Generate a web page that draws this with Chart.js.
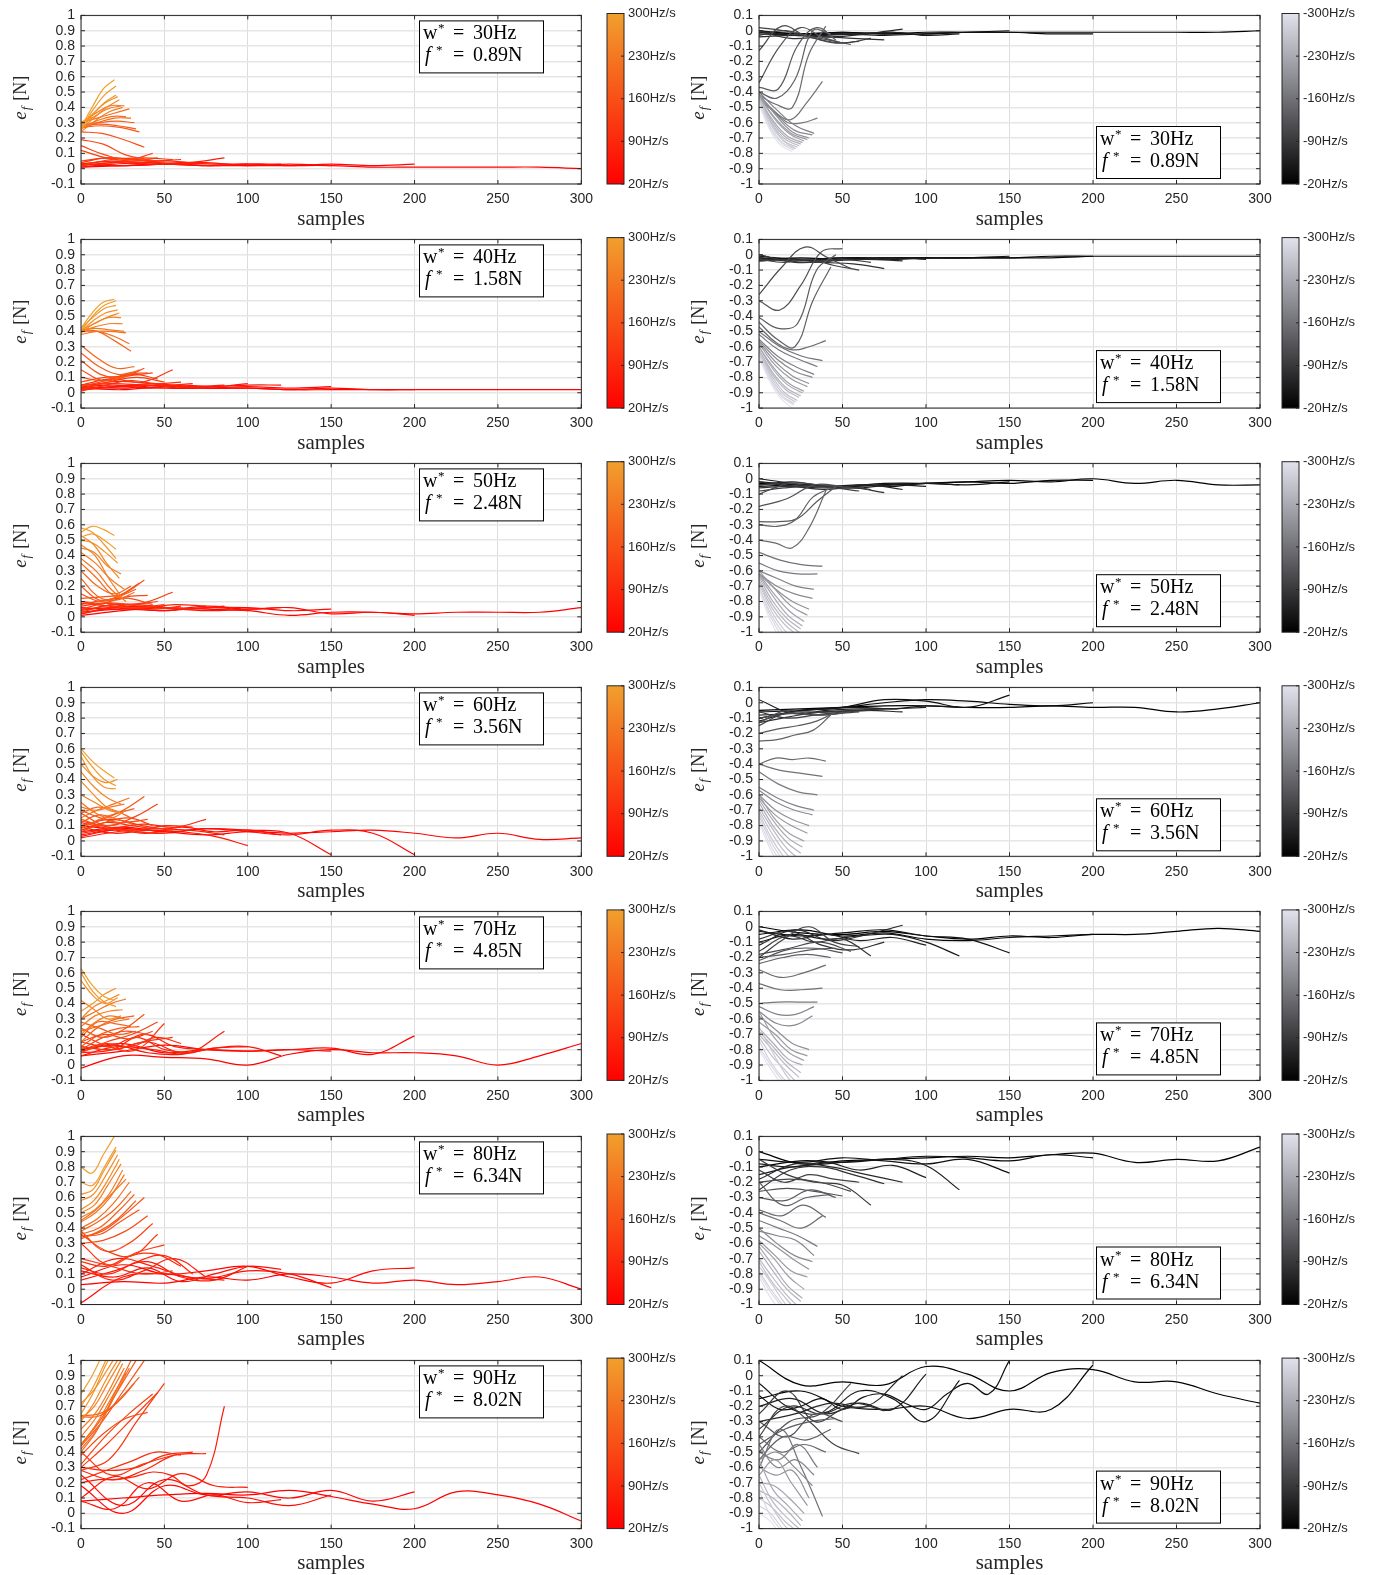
<!DOCTYPE html>
<html>
<head>
<meta charset="utf-8">
<script src="https://cdn.jsdelivr.net/npm/chart.js@4.4.1/dist/chart.umd.min.js"></script>
<style>
  body { margin: 0; background: #fff; }
  #wrap { position: relative; width: 1376px; height: 1575px; background: #fff; }
  #wrap canvas { position: absolute; }
</style>
</head>
<body>
<div id="wrap"></div>
<script>
// rate of each curve (Hz/s) and its length in samples
const rates   = [20,30,40,50,60,70,80,90,100,110,120,130,140,150,160,170,180,190,200,210,220,230,240,250,260,270,280,290,300];
const lengths = [300,200,150,120,100,86,75,67,60,55,50,46,43,40,38,35,33,32,30,29,27,26,25,24,23,22,21,21,20];

const wLabels = ['30Hz','40Hz','50Hz','60Hz','70Hz','80Hz','90Hz'];
const fLabels = ['0.89N','1.58N','2.48N','3.56N','4.85N','6.34N','8.02N'];

const xTicks = [0,50,100,150,200,250,300];
const yTicksPos = [-0.1,0,0.1,0.2,0.3,0.4,0.5,0.6,0.7,0.8,0.9,1];
const yTicksNeg = [-1,-0.9,-0.8,-0.7,-0.6,-0.5,-0.4,-0.3,-0.2,-0.1,0,0.1];
const cbTicksPos = [20,90,160,230,300];
const cbTicksNeg = [-300,-230,-160,-90,-20];

// positive-rate error curves, one array per rate (same order as rates)
const w30pos = [
  [0.01,0.02,0.03,0.02,0.02,0.02,0.02,0.01,0.01,0.01,0.01,0.01,0.0],
  [0.03,0.02,0.03,0.02,0.03,0.02,0.03,0.02,0.03],
  [0.03,0.02,0.03,0.04,0.02,0.03,0.02],
  [0.01,0.03,0.04,0.03,0.02,0.03,0.03],
  [0.02,0.04,0.03,0.04,0.03,0.03],
  [0.03,0.05,0.03,0.04,0.07],
  [0.02,0.04,0.05,0.03,0.04],
  [0.03,0.05,0.04,0.05,0.04],
  [0.04,0.07,0.06,0.05,0.06],
  [0.02,0.06,0.07,0.06],
  [0.05,0.07,0.06,0.05],
  [0.12,0.07,0.05,0.07],
  [0.15,0.09,0.06,0.10],
  [0.19,0.16,0.09,0.06],
  [0.24,0.23,0.19,0.14],
  [0.27,0.28,0.27,0.24],
  [0.28,0.29,0.28,0.26],
  [0.28,0.30,0.31,0.30],
  [0.26,0.30,0.33,0.33],
  [0.30,0.33,0.36,0.39],
  [0.27,0.31,0.34,0.34],
  [0.30,0.36,0.41,0.41],
  [0.24,0.31,0.37,0.40],
  [0.29,0.34,0.39,0.41],
  [0.26,0.33,0.40,0.45],
  [0.28,0.36,0.43,0.47],
  [0.25,0.35,0.43,0.48],
  [0.26,0.38,0.48,0.54],
  [0.27,0.40,0.52,0.58]
];
const w40pos = [
  [0.03,0.02,0.04,0.03,0.03,0.02,0.02,0.02,0.02,0.02,0.02,0.02,0.02],
  [0.04,0.03,0.05,0.03,0.03,0.02,0.03,0.02,0.02],
  [0.02,0.04,0.03,0.03,0.04,0.03,0.04],
  [0.03,0.04,0.05,0.03,0.04,0.05,0.05],
  [0.04,0.05,0.03,0.05,0.04,0.06],
  [0.02,0.04,0.06,0.04,0.05],
  [0.05,0.06,0.05,0.04,0.03],
  [0.03,0.07,0.07,0.05,0.06],
  [0.01,0.05,0.08,0.06,0.07],
  [0.05,0.09,0.07,0.15],
  [0.02,0.07,0.10,0.07],
  [0.04,0.08,0.12,0.09],
  [0.07,0.10,0.11,0.13],
  [0.10,0.08,0.12,0.13],
  [0.15,0.08,0.10,0.16],
  [0.21,0.12,0.10,0.15],
  [0.26,0.17,0.12,0.14],
  [0.31,0.22,0.16,0.17],
  [0.41,0.40,0.34,0.27],
  [0.40,0.40,0.37,0.32],
  [0.38,0.40,0.40,0.39],
  [0.41,0.42,0.41,0.40],
  [0.40,0.43,0.45,0.45],
  [0.41,0.45,0.49,0.49],
  [0.39,0.45,0.49,0.52],
  [0.40,0.47,0.52,0.54],
  [0.42,0.49,0.55,0.57],
  [0.40,0.50,0.57,0.60],
  [0.42,0.52,0.59,0.61]
];
const w50pos = [
  [0.01,0.04,0.06,0.05,0.04,0.01,0.03,0.03,0.02,0.03,0.03,0.03,0.06],
  [0.05,0.06,0.04,0.07,0.05,0.06,0.02,0.03,0.01],
  [0.03,0.05,0.04,0.06,0.06,0.04,0.05],
  [0.06,0.05,0.07,0.05,0.04,0.05,0.06],
  [0.02,0.06,0.07,0.05,0.06,0.04],
  [0.04,0.08,0.06,0.05,0.07],
  [0.09,0.07,0.06,0.08,0.07],
  [0.02,0.06,0.08,0.06,0.05],
  [0.07,0.09,0.06,0.05,0.07],
  [0.03,0.08,0.09,0.16],
  [0.10,0.07,0.06,0.08],
  [0.05,0.09,0.08,0.10],
  [0.08,0.11,0.12,0.08],
  [0.10,0.09,0.13,0.14],
  [0.12,0.13,0.15,0.24],
  [0.15,0.10,0.14,0.22],
  [0.20,0.11,0.13,0.18],
  [0.25,0.13,0.11,0.16],
  [0.30,0.20,0.15,0.20],
  [0.35,0.25,0.14,0.12],
  [0.38,0.30,0.18,0.10],
  [0.42,0.35,0.25,0.18],
  [0.47,0.40,0.25,0.12],
  [0.45,0.42,0.33,0.28],
  [0.53,0.47,0.35,0.25],
  [0.50,0.48,0.42,0.35],
  [0.58,0.55,0.47,0.38],
  [0.52,0.54,0.50,0.44],
  [0.55,0.59,0.57,0.53]
];
const w60pos = [
  [0.03,0.08,0.06,0.04,0.06,0.05,0.06,0.07,0.05,0.02,0.05,0.01,0.02],
  [0.10,0.07,0.05,0.08,0.06,0.04,0.07,0.05,-0.09],
  [0.06,0.09,0.06,0.08,0.07,0.05,-0.09],
  [0.04,0.07,0.05,0.09,0.06,0.07,0.04],
  [0.09,0.05,0.07,0.06,0.03,-0.03],
  [0.02,0.06,0.08,0.07,0.04],
  [0.05,0.08,0.11,0.09,0.14],
  [0.13,0.09,0.07,0.10,0.09],
  [0.07,0.12,0.10,0.08,0.09],
  [0.10,0.14,0.10,0.07],
  [0.12,0.08,0.06,0.05],
  [0.18,0.10,0.15,0.24],
  [0.06,0.12,0.15,0.10],
  [0.14,0.10,0.12,0.14],
  [0.10,0.14,0.20,0.29],
  [0.20,0.15,0.12,0.13],
  [0.12,0.17,0.14,0.10],
  [0.08,0.14,0.18,0.21],
  [0.18,0.22,0.20,0.15],
  [0.15,0.20,0.24,0.28],
  [0.25,0.18,0.15,0.20],
  [0.22,0.20,0.22,0.24],
  [0.30,0.25,0.20,0.18],
  [0.45,0.35,0.28,0.24],
  [0.39,0.30,0.22,0.18],
  [0.50,0.42,0.38,0.40],
  [0.55,0.42,0.35,0.34],
  [0.58,0.48,0.40,0.36],
  [0.60,0.52,0.46,0.41]
];
const w70pos = [
  [-0.02,0.06,0.05,0.04,0.00,0.07,0.10,0.08,0.08,0.06,0.00,0.06,0.14],
  [0.06,0.09,0.13,0.10,0.09,0.10,0.11,0.07,0.19],
  [0.10,0.14,0.08,0.10,0.09,0.10,0.09],
  [0.09,0.13,0.08,0.07,0.11,0.12,0.06],
  [0.12,0.10,0.15,0.08,0.11,0.12],
  [0.06,0.12,0.10,0.08,0.22],
  [0.08,0.10,0.20,0.12,0.10],
  [0.15,0.12,0.18,0.10,0.08],
  [0.10,0.14,0.12,0.18,0.14],
  [0.12,0.10,0.15,0.18],
  [0.20,0.12,0.10,0.27],
  [0.08,0.15,0.20,0.28],
  [0.15,0.20,0.17,0.22],
  [0.10,0.18,0.22,0.20],
  [0.24,0.18,0.23,0.33],
  [0.12,0.20,0.24,0.25],
  [0.28,0.24,0.20,0.22],
  [0.15,0.25,0.30,0.32],
  [0.18,0.28,0.27,0.25],
  [0.22,0.25,0.28,0.30],
  [0.30,0.35,0.40,0.43],
  [0.20,0.28,0.32,0.30],
  [0.25,0.32,0.35,0.36],
  [0.42,0.36,0.30,0.32],
  [0.30,0.38,0.42,0.46],
  [0.55,0.45,0.40,0.44],
  [0.35,0.40,0.46,0.50],
  [0.60,0.48,0.41,0.38],
  [0.63,0.52,0.45,0.42]
];
const w80pos = [
  [0.03,0.05,0.04,0.08,0.06,0.10,0.08,0.04,0.06,0.03,0.05,0.08,0.0],
  [0.08,0.16,0.10,0.12,0.15,0.08,0.04,0.12,0.14],
  [-0.09,0.08,0.10,0.07,0.12,0.10,0.01],
  [0.12,0.08,0.14,0.05,0.10,0.15,0.13],
  [0.06,0.12,0.18,0.08,0.06,0.15],
  [0.10,0.20,0.15,0.08,0.06],
  [0.16,0.06,0.12,0.20,0.08],
  [0.14,0.10,0.18,0.22,0.10],
  [0.18,0.15,0.22,0.23,0.15],
  [0.20,0.15,0.10,0.12],
  [0.30,0.16,0.24,0.29],
  [0.36,0.25,0.22,0.36],
  [0.38,0.25,0.30,0.43],
  [0.30,0.32,0.38,0.48],
  [0.34,0.38,0.48,0.60],
  [0.35,0.36,0.44,0.52],
  [0.33,0.38,0.46,0.58],
  [0.36,0.40,0.50,0.62],
  [0.38,0.44,0.52,0.64],
  [0.40,0.46,0.56,0.70],
  [0.45,0.52,0.62,0.72],
  [0.44,0.50,0.60,0.75],
  [0.47,0.52,0.62,0.78],
  [0.50,0.55,0.68,0.82],
  [0.52,0.58,0.70,0.85],
  [0.58,0.62,0.74,0.88],
  [0.62,0.65,0.78,0.91],
  [0.70,0.68,0.80,0.93],
  [0.80,0.76,0.88,1.0]
];
const w90pos = [
  [0.08,0.10,0.12,0.13,0.12,0.15,0.11,0.06,0.03,0.14,0.12,0.06,-0.05],
  [0.18,0.00,0.18,0.12,0.14,0.10,0.15,0.08,0.14],
  [0.25,0.05,0.22,0.12,0.10,0.05,0.12],
  [0.08,0.03,0.20,0.08,0.12,0.07,0.09],
  [0.10,0.24,0.16,0.26,0.18,0.17],
  [0.20,0.22,0.22,0.24,0.27,0.25,0.18,0.25,0.70],
  [0.28,0.22,0.28,0.38,0.39],
  [0.30,0.28,0.30,0.38,0.40],
  [0.22,0.28,0.34,0.40,0.38],
  [0.40,0.25,0.32,0.38],
  [0.28,0.35,0.60,0.85],
  [0.30,0.45,0.62,0.79],
  [0.32,0.50,0.65,0.78],
  [0.38,0.52,0.62,0.66],
  [0.44,0.60,0.80,1.0],
  [0.63,0.64,0.75,0.89],
  [0.45,0.60,0.80,1.0],
  [0.64,0.65,0.72,0.85],
  [0.40,0.55,0.78,1.0],
  [0.42,0.55,0.75,0.95],
  [0.45,0.58,0.75,0.92],
  [0.50,0.62,0.78,0.95],
  [0.55,0.65,0.80,0.98],
  [0.62,0.70,0.85,1.0],
  [0.60,0.72,0.88,1.02],
  [0.72,0.80,0.92,1.05],
  [0.65,0.78,0.95,1.1],
  [0.70,0.82,0.98,1.15],
  [0.78,0.90,1.05,1.2]
];

// negative-rate error curves
const w30neg = [
  [-0.01,-0.02,-0.01,-0.02,-0.01,-0.01,-0.01,-0.01,-0.01,-0.01,-0.01,-0.01,0.0],
  [0.0,-0.02,-0.01,-0.02,-0.02,-0.01,-0.01,-0.02,-0.02],
  [-0.02,-0.03,-0.02,-0.03,-0.02,-0.01,0.0],
  [0.0,-0.03,-0.02,-0.02,-0.01,-0.03,-0.02],
  [-0.01,-0.03,-0.03,-0.02,-0.01,-0.03],
  [-0.04,-0.03,-0.04,-0.02,0.01],
  [0.0,-0.05,-0.04,-0.05,-0.06],
  [-0.03,0.0,-0.05,-0.08,-0.05],
  [0.02,0.0,-0.04,-0.08,-0.07],
  [-0.13,0.03,-0.03,-0.06,-0.09],
  [-0.34,-0.1,0.02,-0.04,-0.08],
  [-0.37,-0.38,-0.1,0.02,-0.06],
  [-0.40,-0.44,-0.32,0.0,-0.02],
  [-0.42,-0.48,-0.5,-0.15,0.03],
  [-0.44,-0.53,-0.58,-0.47,-0.33],
  [-0.42,-0.52,-0.6,-0.6,-0.57],
  [-0.40,-0.52,-0.62,-0.67],
  [-0.42,-0.55,-0.65,-0.68],
  [-0.41,-0.55,-0.66,-0.70],
  [-0.43,-0.57,-0.67,-0.71],
  [-0.42,-0.57,-0.67,-0.72],
  [-0.44,-0.59,-0.69,-0.73],
  [-0.43,-0.6,-0.7,-0.74],
  [-0.45,-0.61,-0.71,-0.75],
  [-0.44,-0.61,-0.72,-0.76],
  [-0.45,-0.62,-0.72,-0.77],
  [-0.46,-0.63,-0.73,-0.77],
  [-0.47,-0.64,-0.74,-0.78],
  [-0.48,-0.65,-0.75,-0.79]
];
const w40neg = [
  [-0.02,-0.03,-0.02,-0.02,-0.02,-0.02,-0.02,-0.01,-0.01,-0.01,-0.01,-0.01,-0.01],
  [-0.03,-0.02,-0.03,-0.02,-0.02,-0.02,-0.02,-0.02,-0.01],
  [-0.01,-0.03,-0.02,-0.03,-0.02,-0.02,-0.01],
  [-0.04,-0.03,-0.04,-0.02,-0.03,-0.02,-0.02],
  [-0.02,-0.04,-0.03,-0.03,-0.02,-0.03],
  [0.0,-0.05,-0.04,-0.03,-0.04],
  [-0.04,-0.03,-0.05,-0.06,-0.09],
  [0.0,-0.04,-0.05,-0.03,-0.05],
  [-0.03,-0.05,-0.03,-0.07,-0.10],
  [-0.26,-0.08,0.05,-0.02,-0.09],
  [-0.30,-0.36,-0.2,0.02,0.04],
  [-0.41,-0.48,-0.45,-0.1,0.0],
  [-0.44,-0.55,-0.6,-0.3,-0.08],
  [-0.47,-0.57,-0.62,-0.6,-0.56],
  [-0.5,-0.6,-0.66,-0.69],
  [-0.52,-0.62,-0.68,-0.73],
  [-0.55,-0.66,-0.73,-0.78],
  [-0.56,-0.68,-0.76,-0.8],
  [-0.57,-0.7,-0.79,-0.84],
  [-0.58,-0.72,-0.81,-0.86],
  [-0.6,-0.74,-0.84,-0.89],
  [-0.6,-0.75,-0.85,-0.9],
  [-0.62,-0.77,-0.87,-0.92],
  [-0.62,-0.78,-0.88,-0.93],
  [-0.63,-0.79,-0.9,-0.95],
  [-0.64,-0.8,-0.91,-0.96],
  [-0.65,-0.81,-0.92,-0.97],
  [-0.66,-0.82,-0.93,-0.98],
  [-0.67,-0.83,-0.94,-1.0]
];
const w50neg = [
  [-0.03,-0.04,-0.05,-0.04,-0.03,-0.02,-0.01,-0.02,0.0,-0.03,-0.01,-0.04,-0.04],
  [-0.02,-0.04,-0.05,-0.04,-0.03,-0.02,-0.03,-0.01,-0.01],
  [-0.05,-0.04,-0.05,-0.03,-0.03,-0.04,-0.02],
  [0.0,-0.03,-0.05,-0.04,-0.05,-0.03,-0.04],
  [-0.04,-0.02,-0.05,-0.06,-0.04,-0.05],
  [-0.02,-0.05,-0.06,-0.04,-0.07],
  [-0.06,-0.05,-0.07,-0.06,-0.09],
  [-0.04,-0.03,-0.05,-0.05,-0.07],
  [-0.08,-0.06,-0.05,-0.06,-0.08],
  [-0.10,-0.03,-0.04,-0.06],
  [-0.18,-0.13,-0.04,-0.05],
  [-0.28,-0.28,-0.26,-0.15,-0.05],
  [-0.30,-0.31,-0.27,-0.12,-0.06],
  [-0.40,-0.42,-0.45,-0.32,-0.08],
  [-0.48,-0.53,-0.56,-0.57],
  [-0.55,-0.6,-0.62,-0.62],
  [-0.6,-0.65,-0.7,-0.72],
  [-0.62,-0.7,-0.75,-0.78],
  [-0.62,-0.72,-0.8,-0.85],
  [-0.6,-0.72,-0.83,-0.89],
  [-0.62,-0.75,-0.86,-0.93],
  [-0.63,-0.77,-0.89,-0.96],
  [-0.64,-0.8,-0.91,-0.98],
  [-0.66,-0.82,-0.93,-1.0],
  [-0.67,-0.84,-0.95,-1.02],
  [-0.68,-0.86,-0.98,-1.05],
  [-0.7,-0.88,-1.0,-1.08],
  [-0.71,-0.9,-1.03,-1.1],
  [-0.72,-0.92,-1.05,-1.12]
];
const w60neg = [
  [-0.05,-0.04,-0.03,-0.02,-0.02,-0.03,-0.03,-0.02,-0.03,-0.03,-0.06,-0.04,0.0],
  [-0.10,-0.05,-0.03,0.0,0.02,0.01,-0.01,-0.02,0.0],
  [-0.06,-0.05,-0.03,0.02,0.01,-0.03,0.05],
  [-0.12,-0.06,-0.04,-0.03,-0.04,-0.02,-0.03],
  [0.02,-0.07,-0.05,-0.04,-0.04,-0.03],
  [-0.08,-0.07,-0.06,-0.05,-0.06],
  [-0.13,-0.09,-0.06,-0.05,-0.04],
  [-0.06,-0.10,-0.08,-0.06,-0.05],
  [-0.15,-0.07,-0.06,-0.07,-0.06],
  [-0.10,-0.07,-0.08,-0.06],
  [-0.13,-0.05,-0.08,-0.07],
  [-0.20,-0.17,-0.15,-0.12,-0.06],
  [-0.25,-0.24,-0.21,-0.18,-0.08],
  [-0.40,-0.36,-0.37,-0.36,-0.38],
  [-0.40,-0.44,-0.46,-0.48],
  [-0.45,-0.53,-0.58,-0.6],
  [-0.55,-0.62,-0.67,-0.70],
  [-0.57,-0.65,-0.7,-0.73],
  [-0.6,-0.7,-0.76,-0.8],
  [-0.62,-0.73,-0.8,-0.85],
  [-0.6,-0.75,-0.85,-0.9],
  [-0.63,-0.77,-0.88,-0.94],
  [-0.65,-0.8,-0.91,-0.98],
  [-0.68,-0.82,-0.94,-1.02],
  [-0.7,-0.85,-0.97,-1.05],
  [-0.72,-0.88,-1.0,-1.08],
  [-0.74,-0.9,-1.02,-1.1],
  [-0.76,-0.93,-1.05,-1.12],
  [-0.78,-0.95,-1.08,-1.15]
];
const w70neg = [
  [0.0,-0.04,-0.05,-0.03,-0.06,-0.08,-0.06,-0.07,-0.05,-0.05,-0.03,-0.01,-0.03],
  [-0.05,-0.02,-0.06,-0.04,-0.08,-0.09,-0.07,-0.06,-0.05],
  [-0.03,-0.06,-0.04,-0.02,-0.06,-0.08,-0.17],
  [-0.1,-0.05,-0.08,-0.06,-0.05,-0.1,-0.19],
  [-0.02,-0.08,-0.05,-0.09,-0.07,-0.12],
  [-0.12,-0.02,-0.09,-0.05,0.01],
  [-0.08,-0.03,-0.12,-0.15,-0.1],
  [-0.16,-0.06,-0.1,-0.08,-0.19],
  [-0.2,-0.08,0.0,-0.1,-0.13],
  [-0.18,-0.14,-0.1,-0.16],
  [-0.22,-0.15,-0.14,-0.17],
  [-0.2,-0.18,-0.15,-0.14],
  [-0.24,-0.2,-0.18,-0.2],
  [-0.28,-0.33,-0.3,-0.25],
  [-0.37,-0.41,-0.41,-0.40],
  [-0.5,-0.49,-0.49,-0.49],
  [-0.52,-0.57,-0.57,-0.52],
  [-0.55,-0.63,-0.64,-0.58],
  [-0.58,-0.67,-0.76,-0.8],
  [-0.62,-0.7,-0.8,-0.84],
  [-0.55,-0.72,-0.82,-0.87],
  [-0.66,-0.76,-0.86,-0.9],
  [-0.68,-0.78,-0.88,-0.95],
  [-0.7,-0.8,-0.9,-0.98],
  [-0.72,-0.84,-0.93,-1.02],
  [-0.65,-0.8,-0.94,-1.05],
  [-0.74,-0.88,-0.98,-1.05],
  [-0.78,-0.9,-1.0,-1.08],
  [-0.8,-0.92,-1.02,-1.1]
];
const w80neg = [
  [0.0,-0.08,-0.06,-0.05,-0.04,-0.03,-0.04,-0.02,-0.01,-0.07,-0.05,-0.06,0.03],
  [-0.1,-0.06,-0.07,-0.05,-0.03,-0.04,-0.06,-0.02,-0.04],
  [-0.05,-0.07,-0.04,-0.06,-0.08,-0.05,-0.14],
  [-0.15,-0.1,-0.08,-0.06,-0.05,-0.09,-0.25],
  [-0.08,-0.1,-0.07,-0.12,-0.09,-0.17],
  [-0.18,-0.08,-0.1,-0.15,-0.2],
  [-0.25,-0.12,-0.1,-0.15,-0.21],
  [-0.05,-0.15,-0.2,-0.22,-0.35],
  [-0.12,-0.2,-0.15,-0.18,-0.2],
  [-0.2,-0.18,-0.2,-0.26],
  [-0.26,-0.24,-0.26,-0.29],
  [-0.3,-0.32,-0.25,-0.3],
  [-0.2,-0.35,-0.3,-0.28],
  [-0.38,-0.42,-0.35,-0.43],
  [-0.4,-0.45,-0.5,-0.42],
  [-0.45,-0.5,-0.55,-0.62],
  [-0.52,-0.55,-0.58,-0.68],
  [-0.5,-0.6,-0.68,-0.72],
  [-0.55,-0.62,-0.7,-0.77],
  [-0.58,-0.68,-0.78,-0.82],
  [-0.6,-0.7,-0.82,-0.9],
  [-0.62,-0.75,-0.88,-0.96],
  [-0.65,-0.78,-0.9,-0.98],
  [-0.7,-0.82,-0.93,-1.02],
  [-0.72,-0.85,-0.95,-1.05],
  [-0.75,-0.86,-0.98,-1.08],
  [-0.78,-0.9,-1.0,-1.1],
  [-0.8,-0.92,-1.02,-1.12],
  [-0.82,-0.95,-1.05,-1.15]
];
const w90neg = [
  [0.1,-0.06,-0.04,-0.06,0.06,0.01,-0.1,0.02,0.04,-0.04,-0.04,-0.12,-0.18],
  [-0.15,-0.1,-0.2,-0.22,-0.2,-0.28,-0.22,-0.22,0.07],
  [-0.13,-0.22,-0.2,-0.15,-0.22,-0.14,-0.12,-0.18,-0.22,-0.12,-0.05,-0.12,0.1],
  [-0.05,-0.22,-0.24,-0.1,-0.15,-0.3,-0.03],
  [-0.2,-0.15,-0.25,-0.18,-0.22,0.01],
  [-0.3,-0.25,-0.18,-0.2,0.0],
  [-0.35,-0.2,-0.25,-0.18,-0.23],
  [-0.25,-0.1,-0.3,-0.22,-0.2],
  [-0.4,-0.2,-0.3,-0.45,-0.51],
  [-0.5,-0.3,-0.25,-0.05],
  [-0.3,-0.4,-0.25,-0.3],
  [-0.45,-0.35,-0.3,-0.28],
  [-0.55,-0.4,-0.42,-0.35],
  [-0.4,-0.5,-0.45,-0.5],
  [-0.6,-0.35,-0.6,-0.92],
  [-0.5,-0.55,-0.45,-0.6],
  [-0.45,-0.6,-0.55,-0.65],
  [-0.55,-0.5,-0.6,-0.72],
  [-0.6,-0.65,-0.62,-0.8],
  [-0.65,-0.55,-0.7,-0.85],
  [-0.7,-0.72,-0.8,-0.9],
  [-0.55,-0.75,-0.85,-0.95],
  [-0.75,-0.8,-0.88,-0.98],
  [-0.65,-0.82,-0.92,-1.0],
  [-0.8,-0.86,-0.95,-1.02],
  [-0.7,-0.85,-0.97,-1.05],
  [-0.85,-0.9,-1.0,-1.08],
  [-0.75,-0.92,-1.02,-1.1],
  [-0.9,-0.95,-1.05,-1.12]
];

const posPanels = [w30pos, w40pos, w50pos, w60pos, w70pos, w80pos, w90pos];
const negPanels = [w30neg, w40neg, w50neg, w60neg, w70neg, w80neg, w90neg];

// layout (page pixels)
const ROW0 = 13.5, ROWSTEP = 224.1, PH = 170.5;
const INK = '#262626';
Chart.defaults.font.family = '"Liberation Sans", Arial, sans-serif';
Chart.defaults.color = INK;

// colormaps: red -> orange for +rates, black -> pale lavender for -rates
function posColor(r) {
  const t = (Math.abs(r) - 20) / 280;
  return `rgb(${Math.round(255 - 15 * t)},${Math.round(160 * t)},${Math.round(45 * t)})`;
}
function negColor(r) {
  const t = (Math.abs(r) - 20) / 280;
  return `rgb(${Math.round(226 * t)},${Math.round(226 * t)},${Math.round(238 * t)})`;
}

function mk(l, t, w, h) {
  const cv = document.createElement('canvas');
  cv.width = w; cv.height = h;
  cv.style.left = l + 'px'; cv.style.top = t + 'px';
  cv.style.width = w + 'px'; cv.style.height = h + 'px';
  document.getElementById('wrap').appendChild(cv);
  return cv;
}

function drawYLabel(c, x, y) {
  c.save();
  c.translate(x, y);
  c.rotate(-Math.PI / 2);
  c.fillStyle = INK;
  c.textBaseline = 'alphabetic';
  c.textAlign = 'left';
  const fe = 'italic 19px "Liberation Serif"', fs = 'italic 13px "Liberation Serif"', fn = '18px "Liberation Serif"';
  c.font = fe; const we = c.measureText('e').width;
  c.font = fs; const wf = c.measureText('f').width;
  c.font = fn; const wn = c.measureText('[N]').width;
  const gap = 7, tot = we + wf + gap + wn, base = 6;
  let px = -tot / 2;
  c.font = fe; c.fillText('e', px, base); px += we;
  c.font = fs; c.fillText('f', px + 1, base + 4); px += wf + gap;
  c.font = fn; c.fillText('[N]', px, base);
  c.restore();
}

function drawLegend(c, bx, by, w, f) {
  c.save();
  c.fillStyle = '#fff';
  c.fillRect(bx, by, 124, 52);
  c.strokeStyle = '#000'; c.lineWidth = 1;
  c.strokeRect(bx + 0.5, by + 0.5, 124, 52);
  c.fillStyle = '#000'; c.textAlign = 'left'; c.textBaseline = 'alphabetic';
  const big = '20px "Liberation Serif"', it = 'italic 20px "Liberation Serif"', sup = '13px "Liberation Serif"';
  c.font = big; c.fillText('w', bx + 4, by + 19);
  c.font = sup; c.fillText('*', bx + 19, by + 12);
  c.font = big; c.fillText('=', bx + 34, by + 19); c.fillText(w, bx + 54, by + 19);
  c.font = it; c.fillText('f', bx + 6, by + 41);
  c.font = sup; c.fillText('*', bx + 17, by + 34);
  c.font = big; c.fillText('=', bx + 34, by + 41); c.fillText(f, bx + 54, by + 41);
  c.restore();
}

function panelChart(row, neg) {
  const curves = (neg ? negPanels : posPanels)[row];
  const yTicks = neg ? yTicksNeg : yTicksPos;
  const plotTop = ROW0 + ROWSTEP * row;
  const cTop = Math.floor(plotTop) - 12;
  const padTop = plotTop - cTop;
  const cLeft = neg ? 680 : 0;
  const plotL = (neg ? 759 : 81) - cLeft;
  const plotR = (neg ? 1260 : 584) - cLeft;
  const W = 600, H = 240;
  const cv = mk(cLeft, cTop, W, H);

  const datasets = [];
  for (let i = curves.length - 1; i >= 0; i--) {
    const ys = curves[i], L = lengths[i];
    datasets.push({
      data: ys.map((y, k) => ({ x: k * L / (ys.length - 1), y })),
      borderColor: neg ? negColor(rates[i]) : posColor(rates[i]),
      borderWidth: 1.2, pointRadius: 0, tension: 0.4, fill: false
    });
  }

  const decor = {
    id: 'decor',
    afterDraw(chart) {
      const c = chart.ctx, ca = chart.chartArea;
      const sx = chart.scales.x, sy = chart.scales.y;
      c.save();
      c.strokeStyle = INK; c.lineWidth = 1;
      c.strokeRect(ca.left, ca.top, ca.right - ca.left, ca.bottom - ca.top);
      c.beginPath();
      xTicks.forEach(v => {
        const p = sx.getPixelForValue(v);
        c.moveTo(p, ca.bottom); c.lineTo(p, ca.bottom - 4);
        c.moveTo(p, ca.top); c.lineTo(p, ca.top + 4);
      });
      yTicks.forEach(v => {
        const p = sy.getPixelForValue(v);
        c.moveTo(ca.left, p); c.lineTo(ca.left + 4, p);
        c.moveTo(ca.right, p); c.lineTo(ca.right - 4, p);
      });
      c.stroke();
      c.restore();
      if (neg) drawLegend(c, ca.left + 337, ca.bottom - 58, wLabels[row], fLabels[row]);
      else drawLegend(c, ca.left + 338, ca.top + 5, wLabels[row], fLabels[row]);
      drawYLabel(c, neg ? 18 : 20, (ca.top + ca.bottom) / 2 - 2);
      c.save();
      c.fillStyle = INK; c.font = '21px "Liberation Serif"';
      c.textAlign = 'center'; c.textBaseline = 'middle';
      c.fillText('samples', (ca.left + ca.right) / 2, ca.bottom + 35);
      c.restore();
    }
  };

  new Chart(cv, {
    type: 'line',
    data: { datasets },
    options: {
      responsive: false, animation: false, events: [],
      layout: { padding: { left: 0, top: padTop, right: W - plotR, bottom: 0 } },
      plugins: { legend: { display: false }, tooltip: { enabled: false } },
      scales: {
        x: {
          type: 'linear', min: 0, max: 300,
          afterBuildTicks: s => { s.ticks = xTicks.map(v => ({ value: v })); },
          afterFit: s => { s.height = H - padTop - PH; },
          ticks: { autoSkip: false, maxRotation: 0, padding: 7, font: { size: 14 }, color: INK },
          grid: { color: '#dcdcdc', lineWidth: 1, drawTicks: false },
          border: { display: false }
        },
        y: {
          type: 'linear', min: yTicks[0], max: yTicks[yTicks.length - 1],
          afterBuildTicks: s => { s.ticks = yTicks.map(v => ({ value: v })); },
          afterFit: s => { s.width = plotL; },
          ticks: { autoSkip: false, padding: 6, font: { size: 14 }, color: INK,
                   callback: v => String(Math.round(v * 10) / 10) },
          grid: { color: '#e6e6e6', lineWidth: 1.4, drawTicks: false },
          border: { display: false }
        }
      }
    },
    plugins: [decor]
  });
}

function colorbarChart(row, neg) {
  const plotTop = ROW0 + ROWSTEP * row;
  const cTop = Math.floor(plotTop) - 12;
  const padTop = plotTop - cTop;
  const cLeft = neg ? 1276 : 600;
  const barL = (neg ? 1282 : 607) - cLeft;
  const barR = (neg ? 1299 : 624) - cLeft;
  const W = 100, H = 240;
  const ticks = neg ? cbTicksNeg : cbTicksPos;
  const cmap = neg ? negColor : posColor;
  const cv = mk(cLeft, cTop, W, H);

  const grad = ctx => {
    const ca = ctx.chart.chartArea;
    if (!ca) return null;
    const g = ctx.chart.ctx.createLinearGradient(0, ca.bottom, 0, ca.top);
    for (let s = 0; s <= 10; s++) g.addColorStop(s / 10, cmap(20 + 28 * s));
    return g;
  };

  const frame = {
    id: 'cbframe',
    afterDraw(chart) {
      const c = chart.ctx, ca = chart.chartArea, sy = chart.scales.y;
      c.save();
      c.strokeStyle = INK; c.lineWidth = 1;
      c.strokeRect(ca.left, ca.top, ca.right - ca.left, ca.bottom - ca.top);
      c.beginPath();
      ticks.forEach(v => {
        const p = sy.getPixelForValue(v);
        c.moveTo(ca.right, p); c.lineTo(ca.right - 3, p);
      });
      c.stroke();
      c.restore();
    }
  };

  new Chart(cv, {
    type: 'bar',
    data: { labels: [''], datasets: [{
      data: [neg ? [-300, -20] : [20, 300]],
      backgroundColor: grad, borderWidth: 0,
      barPercentage: 1, categoryPercentage: 1
    }] },
    options: {
      responsive: false, animation: false, events: [],
      layout: { padding: { left: barL, top: padTop, right: 0, bottom: H - padTop - PH } },
      plugins: { legend: { display: false }, tooltip: { enabled: false } },
      scales: {
        x: { display: false },
        y: {
          position: 'right', min: neg ? -300 : 20, max: neg ? -20 : 300, reverse: neg,
          afterBuildTicks: s => { s.ticks = ticks.map(v => ({ value: v })); },
          afterFit: s => { s.width = W - barR; },
          ticks: { autoSkip: false, padding: 4, font: { size: 13 }, color: INK,
                   callback: v => v + 'Hz/s' },
          grid: { display: false, drawTicks: false },
          border: { display: false }
        }
      }
    },
    plugins: [frame]
  });
}

for (let r = 0; r < 7; r++) {
  panelChart(r, false);
  colorbarChart(r, false);
  panelChart(r, true);
  colorbarChart(r, true);
}
</script>
</body>
</html>
